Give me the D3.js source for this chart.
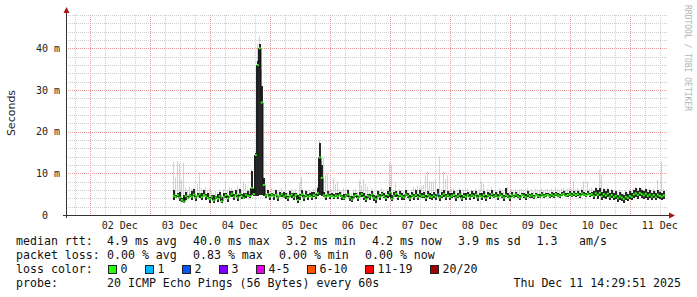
<!DOCTYPE html>
<html lang="en">
<head>
<meta charset="UTF-8" />
<title>SmokePing - last 10 days</title>
<script src="https://cdn.jsdelivr.net/npm/d3@7"></script>
<style>
  html, body { margin: 0; padding: 0; background: #fff; }
  svg text { font-family: "DejaVu Sans Mono", monospace; white-space: pre; }
</style>
</head>
<body>
<svg id="chart" width="697" height="297"></svg>
<script>
// ---- data ----
const graphEnd = "2025-12-11 14:29:51";
const dataStart = "2025-12-03 09:12:00";
const stepMinutes = 48;

// median rtt per step (ms)
const median = [
  4.6, 4.3, 4.8, 4.2, 3.6, 3.2, 4.5, 4.1, 4.7, 4.4,
  4.9, 4.2, 4.6, 5.0, 4.3, 4.8, 4.5, 4.1, 3.8, 4.4,
  3.5, 4.2, 3.9, 4.5, 3.3, 4.3, 4.8, 4.0, 4.6, 5.1,
  4.4, 4.8, 4.2, 5.0, 4.5, 4.1, 4.9, 4.6, 4.5, 6.5,
  5.0, 14.4, 36.0, 40.0, 27.0, 7.2, 4.7, 5.0, 4.4, 4.9,
  4.5, 4.8, 4.2, 4.6, 5.0, 4.4, 4.7, 4.1, 4.6, 4.9,
  4.3, 4.8, 3.6, 4.5, 4.9, 4.2, 4.7, 4.4, 4.6, 4.3,
  4.8, 4.5, 5.2, 13.8, 8.9, 4.7, 4.4, 4.9, 4.5, 4.6,
  4.3, 4.7, 4.5, 4.8, 4.4, 4.0, 4.6, 4.9, 4.2, 3.7,
  4.5, 4.8, 4.1, 4.6, 5.0, 4.3, 3.8, 4.6, 4.4, 4.9,
  4.2, 3.8, 4.7, 4.4, 5.0, 4.5, 4.1, 4.8, 5.4, 3.9,
  4.6, 5.1, 4.3, 4.8, 4.5, 4.2, 4.9, 4.6, 4.0, 4.7,
  4.4, 4.8, 4.3, 4.9, 4.5, 4.6, 4.1, 4.8, 4.5, 4.3,
  4.7, 4.4, 4.9, 4.2, 4.6, 5.0, 4.4, 4.7, 4.3, 4.6,
  4.8, 4.2, 4.5, 4.9, 4.0, 4.6, 4.4, 4.8, 4.3, 4.7,
  4.5, 4.9, 4.2, 4.6, 4.4, 4.8, 4.1, 4.7, 4.5, 5.0,
  4.4, 4.7, 4.3, 4.9, 4.6, 4.2, 4.8, 4.5, 4.1, 4.7,
  4.4, 4.9, 4.5, 4.2, 4.8, 4.6, 4.3, 4.9, 4.5, 4.7,
  4.3, 4.8, 4.6, 4.4, 4.9, 4.5, 4.7, 4.8, 4.5, 4.9,
  4.6, 5.0, 4.7, 4.5, 4.9, 5.1, 4.6, 4.8, 5.0, 4.7,
  5.1, 4.8, 5.0, 4.6, 5.2, 4.9, 4.7, 5.1, 4.8, 5.0,
  4.6, 5.2, 4.8, 5.3, 4.5, 5.0, 4.7, 5.1, 4.4, 4.8,
  4.3, 4.6, 4.0, 4.5, 4.2, 3.8, 4.4, 4.1, 4.6, 4.3,
  4.9, 5.2, 4.8, 5.3, 5.0, 4.7, 5.1, 4.6, 4.9, 4.4,
  4.8, 4.3, 4.9, 4.6, 4.4, 4.7
];

// inner (dark) smoke per step, low and high edge (ms)
const innerLo = [
  3.6, 4.0, 4.4, 3.3, 3.2, 3.0, 3.7, 3.9, 4.3, 3.5,
  4.5, 3.4, 4.3, 4.2, 3.5, 4.5, 3.6, 3.8, 3.0, 4.1,
  2.9, 3.9, 3.1, 4.2, 2.8, 4.0, 4.1, 3.1, 4.3, 4.3,
  3.6, 4.5, 3.3, 4.6, 3.8, 3.8, 4.0, 4.3, 4.2, 4.8,
  4.6, 4.6, 4.6, 4.8, 4.8, 4.6, 4.0, 4.7, 3.6, 4.5,
  3.7, 4.5, 3.4, 4.3, 4.3, 4.1, 3.9, 3.4, 4.3, 4.0,
  3.5, 4.5, 3.0, 3.7, 4.5, 3.4, 4.4, 3.6, 4.3, 3.7,
  4.4, 3.8, 4.5, 4.8, 4.6, 4.4, 3.7, 4.6, 3.9, 4.3,
  3.9, 4.4, 3.8, 4.5, 3.7, 3.5, 4.3, 4.4, 3.4, 3.2,
  4.2, 4.3, 3.3, 4.3, 4.4, 3.6, 3.2, 4.2, 3.6, 4.5,
  3.4, 3.0, 4.3, 3.6, 4.6, 4.1, 3.3, 4.2, 4.4, 3.3,
  4.3, 4.4, 3.5, 4.4, 3.7, 3.5, 4.5, 4.2, 3.3, 4.4,
  3.6, 4.4, 3.6, 4.3, 4.1, 4.0, 3.4, 4.4, 3.8, 3.7,
  4.2, 3.6, 4.5, 3.4, 4.2, 4.3, 3.6, 4.4, 3.5, 4.1,
  4.4, 3.4, 4.0, 4.4, 3.3, 4.2, 3.7, 4.5, 3.5, 4.3,
  3.9, 4.5, 3.4, 4.3, 3.7, 4.3, 3.3, 4.4, 3.8, 4.6,
  4.0, 4.3, 3.5, 4.5, 4.2, 3.4, 4.3, 4.1, 3.3, 4.3,
  4.1, 4.4, 4.2, 3.5, 4.5, 4.0, 3.6, 4.4, 4.2, 4.2,
  3.9, 4.5, 4.2, 4.0, 4.5, 4.2, 4.3, 4.5, 4.1, 4.4,
  4.2, 4.6, 4.4, 4.1, 4.5, 4.7, 4.3, 4.4, 4.5, 4.3,
  4.5, 4.4, 4.6, 4.2, 4.8, 4.5, 4.3, 4.7, 4.4, 4.6,
  3.8, 4.6, 3.9, 4.5, 3.6, 4.2, 3.8, 4.3, 3.5, 4.0,
  3.5, 3.8, 3.2, 3.7, 3.4, 3.0, 3.6, 3.3, 3.8, 3.5,
  4.1, 4.4, 3.9, 4.5, 4.1, 3.8, 4.2, 3.7, 4.0, 3.5,
  4.0, 3.5, 4.1, 3.8, 3.6, 3.9
];
const innerHi = [
  5.9, 4.8, 5.2, 5.6, 4.2, 4.8, 5.6, 4.5, 5.1, 5.7,
  6.2, 4.6, 5.4, 5.4, 5.3, 5.9, 5.0, 5.2, 4.3, 4.8,
  4.7, 4.6, 5.0, 5.6, 3.8, 5.4, 5.2, 4.5, 5.8, 5.7,
  5.0, 6.0, 4.7, 6.2, 5.1, 5.2, 5.4, 5.8, 5.0, 10.5,
  6.3, 15.0, 37.0, 41.0, 31.0, 9.0, 5.1, 6.0, 5.0, 5.3,
  5.0, 5.9, 4.6, 5.5, 5.4, 5.6, 5.2, 4.5, 5.7, 5.3,
  5.4, 5.3, 4.8, 5.0, 6.0, 4.7, 5.8, 5.0, 5.2, 5.5,
  5.5, 5.0, 6.6, 17.3, 12.0, 5.5, 4.9, 5.8, 5.0, 5.4,
  5.0, 5.2, 5.3, 5.5, 4.9, 5.0, 5.1, 5.9, 4.6, 4.6,
  5.4, 5.3, 4.6, 5.6, 5.6, 5.2, 4.5, 5.0, 5.1, 5.8,
  4.9, 4.5, 5.8, 5.0, 5.6, 5.4, 4.7, 5.8, 6.8, 4.7,
  5.5, 5.7, 4.9, 5.7, 5.2, 4.8, 6.0, 5.3, 4.7, 5.5,
  5.0, 5.9, 5.0, 6.1, 5.2, 5.6, 4.8, 5.8, 5.4, 5.0,
  5.6, 5.1, 6.2, 4.8, 5.6, 6.0, 5.0, 5.8, 5.2, 5.4,
  5.7, 4.9, 5.3, 5.9, 4.7, 5.4, 5.3, 5.6, 5.0, 5.8,
  5.2, 5.8, 4.8, 5.3, 5.2, 5.7, 4.7, 5.5, 5.3, 5.9,
  5.1, 5.5, 5.0, 5.7, 5.4, 4.9, 6.6, 5.2, 4.8, 5.6,
  4.9, 5.6, 5.0, 4.8, 5.4, 5.3, 5.0, 5.7, 5.0, 5.4,
  4.9, 5.4, 5.1, 5.0, 5.5, 5.0, 5.3, 5.4, 5.1, 5.6,
  5.2, 5.6, 5.3, 5.0, 5.5, 5.8, 5.2, 5.4, 5.7, 5.3,
  5.8, 5.4, 5.7, 5.2, 5.9, 5.5, 5.3, 5.8, 5.4, 5.6,
  5.7, 6.4, 5.9, 6.6, 5.6, 6.2, 5.8, 6.3, 5.4, 5.9,
  5.2, 5.7, 4.9, 5.6, 5.1, 4.7, 5.5, 5.0, 5.7, 5.2,
  5.9, 6.4, 5.8, 6.5, 6.1, 5.7, 6.2, 5.6, 5.9, 5.3,
  5.8, 5.2, 5.9, 5.6, 5.3, 5.7
];

// slowest ping per step (ms) - outer smoke
const pingMax = [
  12.8, 9.0, 12.9, 12.4, 8.5, 12.5, 6.5, 6.0, 6.8, 6.2,
  6.4, 5.8, 7.5, 10.2, 6.5, 6.2, 6.6, 6.0, 6.5, 5.8,
  5.2, 5.8, 5.5, 6.1, 5.0, 6.2, 8.2, 6.0, 6.6, 6.4,
  5.9, 6.2, 7.0, 6.4, 6.0, 8.0, 7.5, 6.1, 6.0, 11.0,
  6.5, 15.0, 41.0, 43.0, 35.0, 9.0, 6.0, 6.3, 5.8, 6.4,
  5.9, 6.2, 5.7, 6.0, 6.5, 5.8, 7.7, 5.6, 6.0, 6.3,
  5.8, 6.2, 5.2, 7.7, 9.2, 5.7, 6.1, 5.9, 6.0, 5.8,
  6.2, 6.8, 7.0, 18.0, 13.0, 13.7, 9.6, 10.0, 6.0, 6.1,
  9.0, 7.5, 8.0, 6.2, 5.9, 6.5, 6.0, 6.3, 5.7, 5.2,
  6.0, 6.3, 5.6, 8.3, 7.0, 8.6, 7.5, 6.8, 5.9, 6.4,
  5.7, 5.3, 6.1, 5.9, 6.5, 6.0, 5.6, 6.3, 12.6, 12.0,
  6.0, 7.8, 5.8, 6.3, 6.0, 5.7, 6.4, 6.1, 5.5, 6.2,
  6.8, 6.4, 7.0, 6.5, 6.8, 7.2, 9.6, 10.4, 8.0, 8.0,
  8.0, 8.6, 6.5, 14.0, 6.2, 10.4, 8.6, 9.5, 6.0, 6.2,
  6.4, 5.8, 6.0, 6.5, 5.5, 6.2, 6.4, 6.3, 5.8, 6.2,
  6.0, 6.4, 5.7, 6.1, 8.0, 7.5, 5.6, 6.2, 6.0, 6.6,
  5.9, 6.2, 5.8, 6.4, 6.1, 5.7, 6.3, 6.8, 5.6, 6.2,
  5.9, 6.4, 6.0, 6.2, 6.3, 6.1, 5.8, 6.4, 6.0, 6.2,
  5.8, 6.3, 6.2, 6.0, 6.4, 6.0, 6.2, 6.3, 6.0, 6.4,
  6.1, 6.5, 6.2, 6.0, 6.4, 6.6, 6.1, 6.3, 6.5, 6.2,
  8.0, 6.3, 6.5, 6.1, 6.7, 8.0, 6.2, 8.0, 6.3, 6.5,
  6.1, 6.7, 6.3, 10.8, 9.6, 6.5, 6.2, 6.6, 5.9, 6.3,
  5.8, 6.1, 5.5, 6.0, 5.7, 5.3, 5.9, 5.6, 6.1, 5.8,
  6.4, 6.7, 6.3, 6.8, 6.5, 6.2, 6.6, 6.1, 6.4, 5.9,
  6.3, 5.8, 8.4, 6.1, 12.8, 6.2
];

// steps with lost pings: [step, lost count]
const lossSteps = [[132, 1]];

const yTicks = [0, 10, 20, 30, 40];
const dayLabels = ["02 Dec", "03 Dec", "04 Dec", "05 Dec", "06 Dec",
                   "07 Dec", "08 Dec", "09 Dec", "10 Dec", "11 Dec"];

const lossNames  = ["0", "1", "2", "3", "4-5", "6-10", "11-19", "20/20"];
const lossColors = ["#26ff00", "#00b8ff", "#0059ff", "#7e00ff",
                    "#e800e8", "#ff5500", "#ff0000", "#a10000"];

const rttStats  = ["4.9 ms avg", "40.0 ms max", " 3.2 ms min", " 4.2 ms now", "3.9 ms sd", "1.3", "am/s"];
const lossStats = ["0.00 % avg", "0.83 % max", "0.00 % min", "0.00 % now"];
const probeText = "20 ICMP Echo Pings (56 Bytes) every 60s";
const stampText = "Thu Dec 11 14:29:51 2025";

// ---- drawing ----
const svg = d3.select('#chart');
const parse = d3.utcParse("%Y-%m-%d %H:%M:%S");
const tEnd = parse(graphEnd);
const tStart = new Date(+tEnd - 10 * 864e5);
const t0 = parse(dataStart);
const stepMs = stepMinutes * 60e3;

const x = d3.scaleUtc().domain([tStart, tEnd]).range([66, 666]);
const y = d3.scaleLinear().domain([0, 48]).range([215, 15]);
const px = v => Math.round(v) + 0.5;

// grid
const grid = svg.append('g').attr('fill', 'none').attr('stroke-width', 1).attr('stroke-dasharray', '1,1');
const minorH = d3.range(2, 49, 2).filter(v => v % 10 !== 0);
const majorH = yTicks.filter(v => v > 0);
grid.selectAll('.mh').data(minorH).join('line')
  .attr('x1', 66).attr('x2', 667).attr('y1', d => px(y(d))).attr('y2', d => px(y(d)))
  .attr('stroke', '#cdcdcd');
const sixHours = d3.utcHour.every(6).range(tStart, tEnd).filter(d => d.getUTCHours() !== 0);
const days = d3.utcDay.range(tStart, tEnd);
grid.selectAll('.mv').data(sixHours).join('line')
  .attr('x1', d => px(x(d))).attr('x2', d => px(x(d))).attr('y1', 15).attr('y2', 215)
  .attr('stroke', '#cdcdcd');
grid.selectAll('.Mh').data(majorH).join('line')
  .attr('x1', 66).attr('x2', 667).attr('y1', d => px(y(d))).attr('y2', d => px(y(d)))
  .attr('stroke', '#e69a9a');
grid.selectAll('.Mv').data(days).join('line')
  .attr('x1', d => px(x(d))).attr('x2', d => px(x(d))).attr('y1', 15).attr('y2', 215)
  .attr('stroke', '#e69a9a');

// steps
const steps = median.map((m, i) => ({
  i, m, max: pingMax[i], lo: innerLo[i], hi: innerHi[i],
  a: new Date(+t0 + i * stepMs), b: new Date(+t0 + (i + 1) * stepMs)
}));
const lossOf = new Map(lossSteps);

// outer smoke
svg.append('g').selectAll('rect').data(steps).join('rect')
  .attr('x', d => Math.round(x(d.a))).attr('width', 1)
  .attr('y', d => y(d.max)).attr('height', d => y(d.m) - y(d.max))
  .attr('fill', '#d2d2d2');

// inner smoke
svg.append('g').attr('shape-rendering', 'crispEdges')
  .selectAll('rect').data(steps).join('rect')
  .attr('x', d => Math.round(x(d.a))).attr('width', d => Math.round(x(d.b)) - Math.round(x(d.a)))
  .attr('y', d => y(d.hi)).attr('height', d => y(d.lo) - y(d.hi))
  .attr('fill', '#262626');

// median transitions
svg.append('g').selectAll('line').data(steps.slice(1)).join('line')
  .attr('x1', d => x(d.a)).attr('x2', d => x(d.a))
  .attr('y1', d => y(median[d.i - 1])).attr('y2', d => y(d.m))
  .attr('stroke', '#141414').attr('stroke-width', 1.4);

// median coloured by loss
svg.append('g').selectAll('line').data(steps).join('line')
  .attr('x1', d => x(d.a)).attr('x2', d => x(d.b))
  .attr('y1', d => y(d.m)).attr('y2', d => y(d.m))
  .attr('stroke', d => lossColors[lossOf.get(d.i) || 0]).attr('stroke-width', 2);

// axes
const axis = svg.append('g').attr('stroke', '#333').attr('stroke-width', 1);
axis.append('line').attr('x1', 66.5).attr('x2', 66.5).attr('y1', 218).attr('y2', 12);
axis.append('line').attr('x1', 63).attr('x2', 670).attr('y1', 215.5).attr('y2', 215.5);
svg.append('path').attr('d', 'M63.5,13 L69.5,13 L66.5,7 Z').attr('fill', '#a51515');
svg.append('path').attr('d', 'M669,212.5 L669,218.5 L675,215.5 Z').attr('fill', '#a51515');

// y labels
svg.append('g').attr('font-size', 10).attr('fill', '#222').attr('text-anchor', 'end')
  .selectAll('text').data(yTicks).join('text')
  .attr('x', 60).attr('y', d => y(d) + 3.5)
  .text(d => d === 0 ? '0  ' : d + ' m');

// x labels at noon
svg.append('g').attr('font-size', 10).attr('fill', '#222').attr('text-anchor', 'middle')
  .selectAll('text').data(dayLabels).join('text')
  .attr('x', d => x(d3.utcHour.offset(d3.utcParse('%d %b %Y')(d + ' 2025'), 12)))
  .attr('y', 228.5)
  .text(d => d);

svg.append('text')
  .attr('transform', 'translate(15,113) rotate(-90)')
  .attr('text-anchor', 'middle')
  .style('font-family', '"DejaVu Sans", sans-serif')
  .attr('font-size', 11).attr('fill', '#222')
  .text('Seconds');

svg.append('text')
  .attr('transform', 'translate(685,5) rotate(90)')
  .attr('font-size', 8).attr('fill', '#b4b4b4')
  .text('RRDTOOL / TOBI OETIKER');

// legend
const leg = svg.append('g').attr('font-size', 11.6).attr('fill', '#111');
const cols = [107, 193, 279, 365, 458, 536.5, 579];
leg.append('text').attr('x', 16).attr('y', 245).text('median rtt:');
rttStats.forEach((s, k) => leg.append('text').attr('x', cols[k]).attr('y', 245).text(s));
leg.append('text').attr('x', 16).attr('y', 259).text('packet loss:');
lossStats.forEach((s, k) => leg.append('text').attr('x', cols[k]).attr('y', 259).text(s));
leg.append('text').attr('x', 16).attr('y', 273).text('loss color:');
let bx = 108.5;
lossNames.forEach((n, k) => {
  leg.append('rect').attr('x', bx).attr('y', 265.5).attr('width', 8).attr('height', 8)
    .attr('fill', lossColors[k]).attr('stroke', '#222').attr('stroke-width', 1);
  leg.append('text').attr('x', bx + 12).attr('y', 273).text(n);
  bx += 12 + n.length * 7 + 18;
});
leg.append('text').attr('x', 16).attr('y', 287).text('probe:');
leg.append('text').attr('x', 107).attr('y', 287).text(probeText);
leg.append('text').attr('x', 681).attr('y', 287).attr('text-anchor', 'end').text(stampText);
</script>
</body>
</html>
